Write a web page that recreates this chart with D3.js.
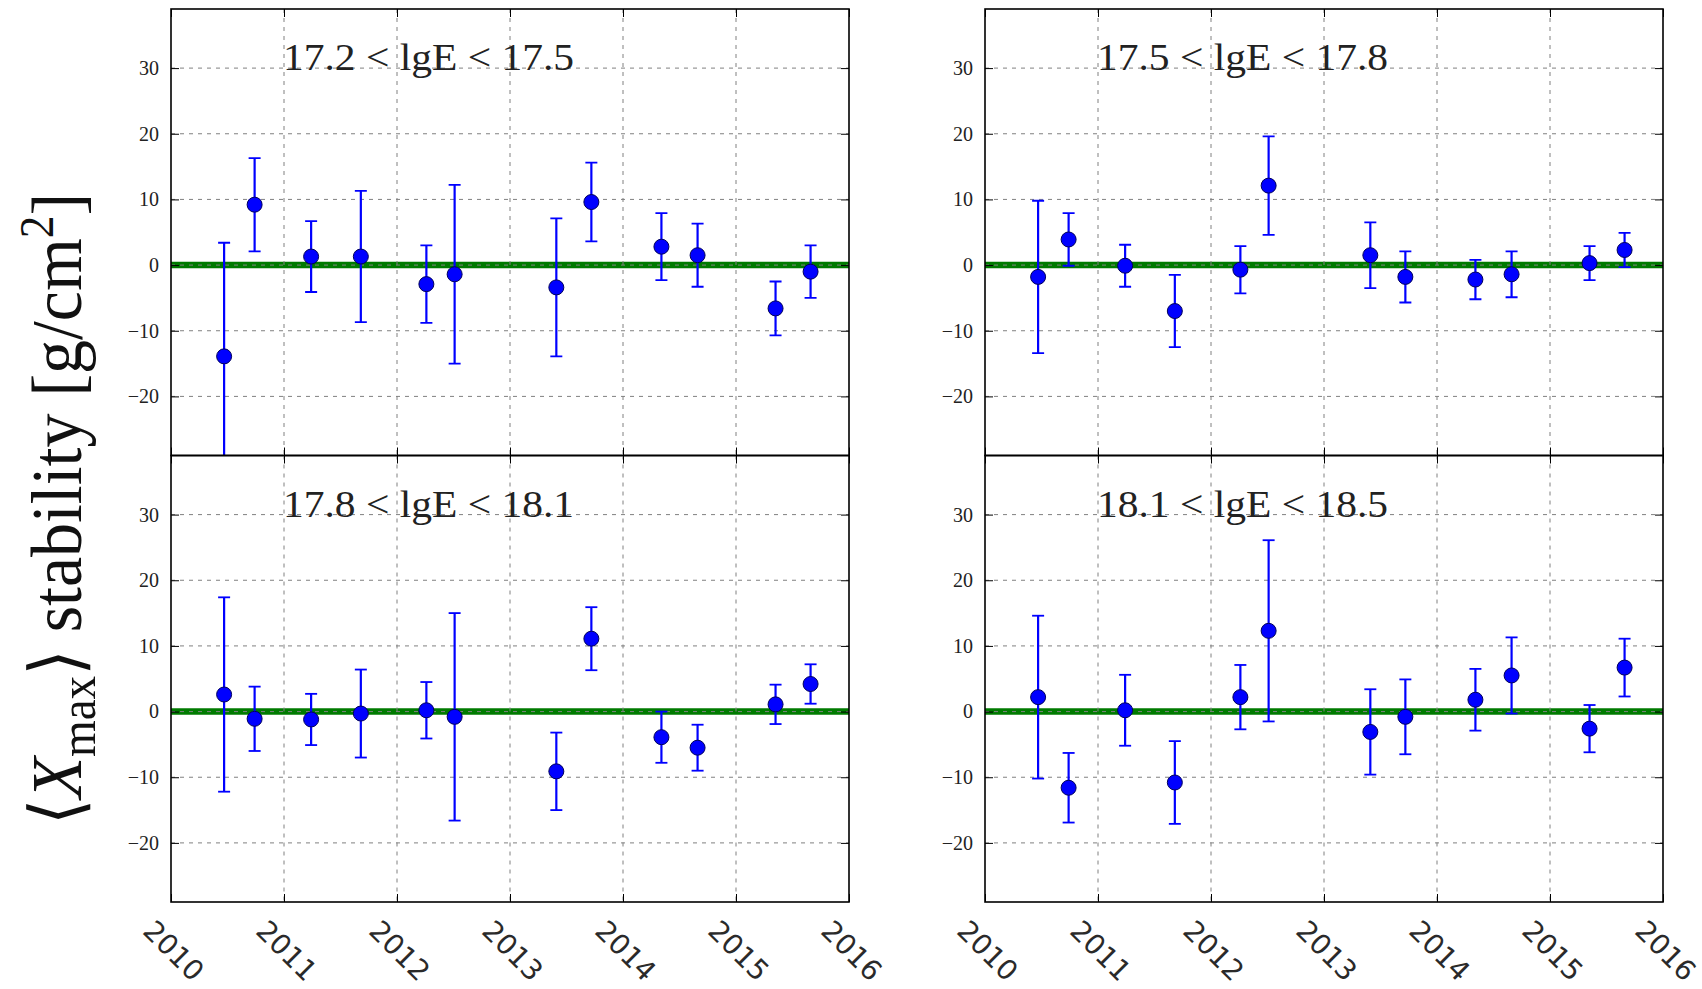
<!DOCTYPE html>
<html lang="en">
<head>
<meta charset="UTF-8">
<title>Xmax stability</title>
<script src="https://d3js.org/d3.v7.min.js"></script>
<style>
    body { margin: 0; background: #fff; }
    .serif { font-family: 'Liberation Serif', 'DejaVu Serif', serif; }
    .ylab text { font-family: 'Liberation Serif', 'DejaVu Serif', serif; }
    .xlab text { font-family: 'DejaVu Sans', sans-serif; }
</style>
</head>
<body>
<svg id="chart" width="1702" height="989"></svg>
<script>
// data
var dates = [2010.47, 2010.74, 2011.24, 2011.68, 2012.26, 2012.51, 2013.41, 2013.72, 2014.34, 2014.66, 2015.35, 2015.66];

var titles = ["17.2 < lgE < 17.5", "17.5 < lgE < 17.8", "17.8 < lgE < 18.1", "18.1 < lgE < 18.5"];

var valuesA = [-13.9, 9.2, 1.3, 1.3, -2.9, -1.4, -3.4, 9.6, 2.8, 1.5, -6.6, -1.0];
var errorsA = [17.3, 7.1, 5.4, 10.0, 5.9, 13.6, 10.5, 6.0, 5.1, 4.8, 4.1, 4.0];

var valuesB = [-1.8, 3.9, -0.1, -7.0, -0.7, 12.1, 1.5, -1.8, -2.2, -1.4, 0.3, 2.3];
var errorsB = [11.6, 4.0, 3.2, 5.5, 3.6, 7.5, 5.0, 3.9, 3.0, 3.5, 2.6, 2.6];

var valuesC = [2.6, -1.1, -1.2, -0.3, 0.2, -0.8, -9.1, 11.1, -3.9, -5.5, 1.1, 4.2];
var errorsC = [14.8, 4.9, 3.9, 6.7, 4.3, 15.8, 5.9, 4.8, 3.9, 3.5, 3.0, 3.0];

var valuesD = [2.2, -11.6, 0.2, -10.8, 2.2, 12.3, -3.1, -0.8, 1.8, 5.5, -2.6, 6.7];
var errorsD = [12.4, 5.3, 5.4, 6.3, 4.9, 13.8, 6.5, 5.7, 4.7, 5.8, 3.6, 4.4];

var yTicks = [-20, -10, 0, 10, 20, 30];
var xTicks = [2010, 2011, 2012, 2013, 2014, 2015, 2016];

var panels = [
    {title: titles[0], values: valuesA, errors: errorsA, col: 0, row: 0},
    {title: titles[1], values: valuesB, errors: errorsB, col: 1, row: 0},
    {title: titles[2], values: valuesC, errors: errorsC, col: 0, row: 1},
    {title: titles[3], values: valuesD, errors: errorsD, col: 1, row: 1}
];

var lefts = [171, 985],
    tops = [9, 455.5],
    w = 678,
    h = 446.5;

var x = d3.scaleLinear().domain([2010, 2016]).range([0, w]);
var y = d3.scaleLinear().domain([-29, 39]).range([h, 0]);

var svg = d3.select("#chart");
var fmt = function(d) { return d < 0 ? "\u2212" + Math.abs(d) : d; };

panels.forEach(function(p, i) {
    var g = svg.append("g")
        .attr("transform", "translate(" + lefts[p.col] + "," + tops[p.row] + ")");

    g.append("clipPath").attr("id", "clip" + i)
        .append("rect").attr("width", w).attr("height", h);

    // green zero line
    g.append("line")
        .attr("x1", 0).attr("x2", w)
        .attr("y1", y(0)).attr("y2", y(0))
        .attr("stroke", "#007a00").attr("stroke-width", 6.5);

    // grid
    g.selectAll(".gx").data(xTicks.slice(1, -1)).enter().append("line")
        .attr("x1", d => x(d)).attr("x2", d => x(d))
        .attr("y1", 0).attr("y2", h)
        .attr("stroke", "#808080").attr("stroke-width", 1).attr("stroke-dasharray", "4,5");
    g.selectAll(".gy").data(yTicks).enter().append("line")
        .attr("x1", 0).attr("x2", w)
        .attr("y1", d => y(d)).attr("y2", d => y(d))
        .attr("stroke", "#808080").attr("stroke-width", 1).attr("stroke-dasharray", "4,5");

    // error bars and points
    var pts = dates.map(function(d, j) { return {t: d, v: p.values[j], e: p.errors[j]}; });
    var data = g.append("g").attr("clip-path", "url(#clip" + i + ")");

    data.selectAll(".eb").data(pts).enter().append("line")
        .attr("x1", d => x(d.t)).attr("x2", d => x(d.t))
        .attr("y1", d => y(d.v - d.e)).attr("y2", d => y(d.v + d.e))
        .attr("stroke", "#0000ff").attr("stroke-width", 2.2);
    [-1, 1].forEach(function(s) {
        data.selectAll(".cap").data(pts).enter().append("line")
            .attr("x1", d => x(d.t) - 6).attr("x2", d => x(d.t) + 6)
            .attr("y1", d => y(d.v + s * d.e)).attr("y2", d => y(d.v + s * d.e))
            .attr("stroke", "#0000ff").attr("stroke-width", 1.8);
    });
    data.selectAll(".pt").data(pts).enter().append("circle")
        .attr("cx", d => x(d.t)).attr("cy", d => y(d.v))
        .attr("r", 7.5)
        .attr("fill", "#0000ff").attr("stroke", "#00005a").attr("stroke-width", 1);

    // axes with inward ticks
    g.append("g").attr("class", "ylab")
        .call(d3.axisLeft(y).tickValues(yTicks).tickSize(-8).tickPadding(12).tickFormat(fmt))
        .call(a => a.select(".domain").remove())
        .call(a => a.selectAll("text").attr("font-size", 20).attr("fill", "#222"));
    g.append("g").attr("transform", "translate(" + w + ",0)")
        .call(d3.axisRight(y).tickValues(yTicks).tickSize(-8).tickFormat(""))
        .call(a => a.select(".domain").remove());
    g.append("g")
        .call(d3.axisTop(x).tickValues(xTicks).tickSize(-8).tickFormat(""))
        .call(a => a.select(".domain").remove());
    var bx = g.append("g").attr("class", "xlab").attr("transform", "translate(0," + h + ")")
        .call(d3.axisBottom(x).tickValues(xTicks).tickSize(-8).tickFormat(p.row === 1 ? d3.format("d") : ""))
        .call(a => a.select(".domain").remove());
    if (p.row === 1) {
        bx.selectAll("text")
            .attr("y", 0).attr("dy", 0)
            .attr("text-anchor", "middle")
            .attr("dominant-baseline", "central")
            .attr("transform", "translate(2,49) rotate(45)")
            .attr("font-size", 28)
            .attr("fill", "#2a2a2a");
    }

    // frame
    g.append("rect")
        .attr("width", w).attr("height", h)
        .attr("fill", "none").attr("stroke", "#000").attr("stroke-width", 1.6);

    // panel title
    g.append("text")
        .attr("class", "serif")
        .attr("x", 112).attr("y", 61)
        .attr("font-size", 38)
        .attr("fill", "#222")
        .attr("textLength", 291).attr("lengthAdjust", "spacingAndGlyphs")
        .text(p.title);
});

// y label
var yl = svg.append("text")
    .attr("class", "serif")
    .attr("transform", "translate(81,509) rotate(-90)")
    .attr("text-anchor", "middle")
    .attr("font-size", 72)
    .attr("fill", "#111")
    .attr("textLength", 632).attr("lengthAdjust", "spacingAndGlyphs");
yl.append("tspan").text("\u27E8");
yl.append("tspan").attr("font-style", "italic").text("X");
yl.append("tspan").attr("font-size", 50).attr("dy", 14).text("max");
yl.append("tspan").attr("dy", -14).text("\u27E9 stability [g/cm");
yl.append("tspan").attr("font-size", 48).attr("dy", -28).text("2");
yl.append("tspan").attr("dy", 28).text("]");
</script>
</body>
</html>
